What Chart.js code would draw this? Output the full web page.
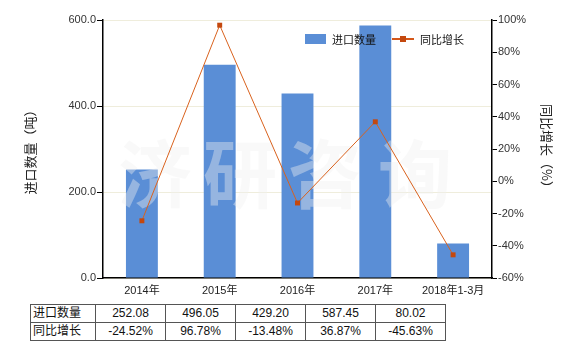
<!DOCTYPE html>
<html>
<head>
<meta charset="utf-8">
<script src="https://cdn.jsdelivr.net/npm/chart.js@4"></script>
<style>
  body { margin: 0; background: #fff; font-family: 'Liberation Sans', 'Noto Sans CJK SC', sans-serif; }
  #wrap { position: relative; width: 580px; height: 350px; }
  #chart { position: absolute; left: 0; top: 0; }
  .legend { position: absolute; top: 31px; font-size: 11px; color: #111; font-family: 'Noto Sans CJK SC', sans-serif; }
  #dataTable { position: absolute; left: 30px; top: 304px; border-collapse: collapse; font-size: 12px; color: #111; font-family: 'Liberation Sans', 'Noto Sans CJK SC', sans-serif; }
  #dataTable td { border: 1px solid #555; height: 17px; padding: 0; text-align: center; width: 69px; line-height: 17px; }
  #dataTable td.head { text-align: left; width: 62px; padding-left: 2px; }
</style>
</head>
<body>
<div id="wrap">
  <canvas id="chart" width="580" height="300"></canvas>
  <div class="legend" style="left:305px;top:34px;width:21px;height:10px;background:#5a8ed6;"></div>
  <div class="legend" style="left:332px;">进口数量</div>
  <div class="legend" style="left:392px;top:38px;width:22px;height:2px;background:#d4571a;"></div>
  <div class="legend" style="left:400px;top:36px;width:6px;height:6px;background:#c4480e;"></div>
  <div class="legend" style="left:420px;">同比增长</div>
  <table id="dataTable"></table>
</div>
<script>
// chart data
const categories = ['2014年', '2015年', '2016年', '2017年', '2018年1-3月'];
const importQty = [252.08, 496.05, 429.20, 587.45, 80.02];
const growthPct = [-24.52, 96.78, -13.48, 36.87, -45.63];
const leftTicks = [0, 200, 400, 600];
const rightTicks = [-60, -40, -20, 0, 20, 40, 60, 80, 100];

const tickFont = { family: "'Liberation Sans', 'Noto Sans CJK SC', sans-serif", size: 11 };
const titleFont = { family: "'Noto Sans CJK SC', sans-serif", size: 13 };

// watermark drawn over the bars, under the line
const watermark = {
  id: 'watermark',
  afterDatasetDraw(chart, args) {
    if (args.index !== 1) return;
    const ctx = chart.ctx;
    ctx.save();
    ctx.font = "bold 74px 'Noto Sans CJK SC', sans-serif";
    ctx.fillStyle = 'rgba(240,240,240,0.4)';
    ctx.textAlign = 'center';
    ctx.textBaseline = 'middle';
    const chars = ['济', '研', '咨', '询'];
    const xs = [155, 240, 325, 415];
    chars.forEach((c, i) => ctx.fillText(c, xs[i], 174));
    ctx.restore();
  }
};

new Chart(document.getElementById('chart'), {
  data: {
    labels: categories,
    datasets: [
      {
        type: 'line',
        label: '同比增长',
        data: growthPct,
        yAxisID: 'y1',
        borderColor: '#d9621e',
        borderWidth: 1,
        pointStyle: 'rect',
        pointRadius: 3.5,
        pointBackgroundColor: '#c4480e',
        pointBorderColor: '#c4480e',
        pointBorderWidth: 0,
        tension: 0
      },
      {
        type: 'bar',
        label: '进口数量',
        data: importQty,
        yAxisID: 'y',
        backgroundColor: '#5a8ed6',
        categoryPercentage: 1,
        barPercentage: 0.41
      }
    ]
  },
  options: {
    responsive: false,
    animation: false,
    layout: { padding: { top: 20, left: 0, right: 0, bottom: 0 } },
    plugins: { legend: { display: false }, tooltip: { enabled: false } },
    scales: {
      x: {
        grid: { display: false, drawTicks: false, tickLength: 0 },
        border: { display: true, color: '#000', width: 1.5 },
        ticks: { font: tickFont, color: '#222', padding: 6, maxRotation: 0 },
        afterFit: s => { s.height = 22; }
      },
      y: {
        position: 'left',
        min: 0,
        max: 600,
        afterBuildTicks: s => { s.ticks = leftTicks.map(v => ({ value: v })); },
        ticks: { font: tickFont, color: '#333', padding: 1, callback: v => v.toFixed(1) },
        grid: { color: '#efeddc', tickColor: '#000', tickLength: 6 },
        border: { color: '#000', width: 1.5 },
        title: { display: true, text: '进口数量（吨）', font: titleFont, color: '#222', padding: { top: 22, bottom: 0 } },
        afterFit: s => { s.width = 103; }
      },
      y1: {
        position: 'right',
        min: -60,
        max: 100,
        afterBuildTicks: s => { s.ticks = rightTicks.map(v => ({ value: v })); },
        ticks: { font: tickFont, color: '#333', padding: 1, callback: v => v + '%' },
        grid: { drawOnChartArea: false, tickColor: '#000', tickLength: 5 },
        border: { color: '#000', width: 1.5 },
        title: { display: true, text: '同比增长（%）', font: titleFont, color: '#222', padding: { top: 25, bottom: 0 } },
        afterFit: s => { s.width = 88; }
      }
    }
  },
  plugins: [watermark]
});

// data table under the chart
const table = document.getElementById('dataTable');
const rows = [
  ['进口数量', importQty.map(v => v.toFixed(2))],
  ['同比增长', growthPct.map(v => v.toFixed(2) + '%')]
];
rows.forEach(([name, vals]) => {
  const tr = document.createElement('tr');
  tr.innerHTML = '<td class="head">' + name + '</td>' + vals.map(v => '<td>' + v + '</td>').join('');
  table.appendChild(tr);
});
</script>
</body>
</html>
